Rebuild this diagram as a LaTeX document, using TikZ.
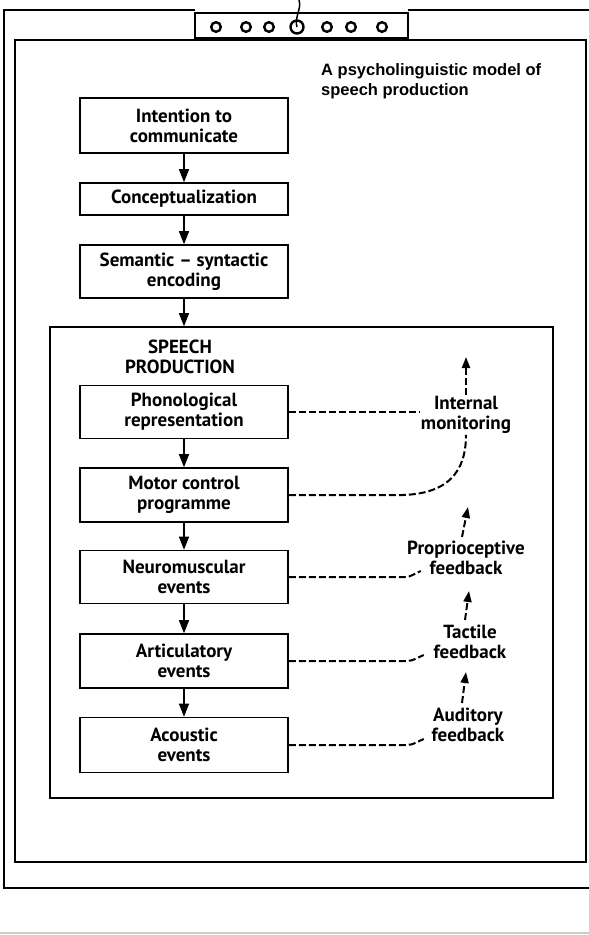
\documentclass[tikz,border=0pt]{standalone}
\usepackage{fontspec}
\setmainfont{PT Sans}
\newfontfamily\titlefont{Liberation Sans}
\usetikzlibrary{arrows.meta}

\begin{document}
\begin{tikzpicture}[x = 1pt, y = -1pt,
  every node/.style = {font = \bfseries\fontsize{19}{20}\selectfont, align = center, inner sep = 1pt},
  stage/.style = {draw, line width = 1.6pt, minimum width = 208pt, inner sep = 0pt},
  flow/.style = {line width = 1.5pt, -{Triangle[length = 13pt, width = 10pt]}},
  backline/.style = {line width = 2pt, dash pattern = on 7pt off 3pt},
  backarrow/.style = {backline, -{Triangle[length = 11pt, width = 8pt]}}]

  \useasboundingbox (0, 0) rectangle (589, 935);
  \clip (0, 0) rectangle (589, 935);

  % Board and clip
  \draw[line width = 1.8pt] (195, 10) -- (4, 10) -- (4, 888) -- (600, 888);
  \draw[line width = 1.8pt] (408, 10) -- (600, 10);
  \draw[line width = 1.8pt] (15, 40) rectangle (586, 862);
  \draw[line width = 1.5pt, fill = white] (195, 13) rectangle (408, 39);
  \draw[line width = 3pt] (195, 38) -- (408, 38);
  \foreach \cx in {216, 246, 269, 327, 351, 382}
    \draw[line width = 2.4pt] (\cx, 27) circle (4.8pt);
  \draw[line width = 2.4pt] (297, 27) circle (6.5pt);
  \draw[line width = 1.5pt] (297, 27) .. controls (294, 18) and (302, 8) .. (299, 0);
  \draw[gray!40, line width = 2pt] (0, 933) -- (589, 933);

  % Title
  \node[anchor = north west, align = left, inner sep = 0pt,
        font = \titlefont\bfseries\fontsize{16.5}{20}\selectfont] (title) at (321, 63)
        {A psycholinguistic model of\\speech production};

  % Planning
  \node[stage, minimum height = 55pt] (intention) at (184, 125.5) {Intention to\\communicate};
  \node[stage, minimum height = 32pt] (concept) at (184, 199) {Conceptualization};
  \node[stage, minimum height = 53pt] (encoding) at (184, 271.5) {Semantic -- syntactic\\encoding};

  % Speech production
  \node[draw, line width = 1.6pt, minimum width = 503pt, minimum height = 471pt] (speech) at (301.5, 562.5) {};
  \node (heading) at (180, 357) {SPEECH\\PRODUCTION};
  \node[stage, minimum height = 53pt] (phono) at (184, 412) {Phonological\\representation};
  \node[stage, minimum height = 54pt] (motor) at (184, 495) {Motor control\\programme};
  \node[stage, minimum height = 53pt] (neuro) at (184, 577) {Neuromuscular\\events};
  \node[stage, minimum height = 54pt] (artic) at (184, 661) {Articulatory\\events};
  \node[stage, minimum height = 55pt] (acoustic) at (184, 745) {Acoustic\\events};

  \draw[flow] (intention) -- (concept);
  \draw[flow] (concept) -- (encoding);
  \draw[flow] (encoding) -- (encoding |- speech.north);
  \draw[flow] (phono) -- (motor);
  \draw[flow] (motor) -- (neuro);
  \draw[flow] (neuro) -- (artic);
  \draw[flow] (artic) -- (acoustic);

  % Feedback
  \node (monitor) at (466, 415) {Internal\\monitoring};
  \node (proprio) at (466, 558) {Proprioceptive\\feedback};
  \node (tactile) at (470, 642) {Tactile\\feedback};
  \node (auditory) at (468, 725) {Auditory\\feedback};

  \coordinate (monitor-up) at (466, 357);
  \coordinate (proprio-up) at (468, 507);
  \coordinate (tactile-up) at (469, 591);
  \coordinate (auditory-up) at (466, 672);

  \draw[backarrow] (monitor.north) -- (monitor-up);
  \draw[backarrow] (462, 537) -- (proprio-up);
  \draw[backarrow] (465, 620) -- (tactile-up);
  \draw[backarrow] (462, 703) -- (auditory-up);

  \draw[backline] (phono.east) -- (phono.east -| monitor.west);
  \draw[backline] (motor.east) -- ++(103, 0) .. controls (450, 497) and (466, 470) .. (monitor.south);
  \draw[backline] (neuro.east) -- ++(116, 0) to[out = 0, in = -160] ++(16, -6);
  \draw[backline] (artic.east) -- ++(118, 0) to[out = 0, in = -160] ++(17, -6);
  \draw[backline] (acoustic.east) -- ++(118, 0) to[out = 0, in = -160] ++(17, -6);

\end{tikzpicture}
\end{document}
